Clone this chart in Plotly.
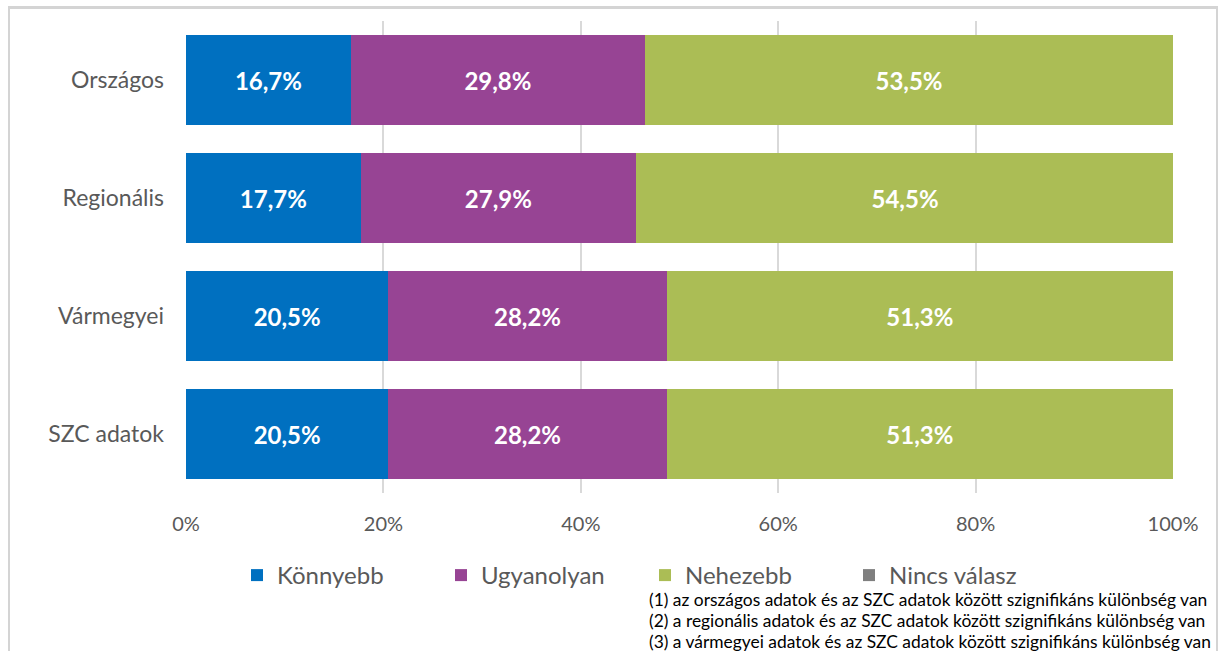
import plotly.graph_objects as go

categories = ["Országos", "Regionális", "Vármegyei", "SZC adatok"]
series_names = ["Könnyebb", "Ugyanolyan", "Nehezebb", "Nincs válasz"]
konnyebb = [16.7, 17.7, 20.5, 20.5]
ugyanolyan = [29.8, 27.9, 28.2, 28.2]
nehezebb = [53.5, 54.5, 51.3, 51.3]
nincs_valasz = [0, 0, 0, 0]
tick_vals = [0, 20, 40, 60, 80, 100]
tick_labels = ["0%", "20%", "40%", "60%", "80%", "100%"]
footnotes = [
    "(1) az országos adatok és az SZC adatok között szignifikáns különbség van",
    "(2) a regionális adatok és az SZC adatok között szignifikáns különbség van",
    "(3) a vármegyei adatok és az SZC adatok között szignifikáns különbség van",
]
colors = ["#0070c0", "#974494", "#abbd55", "#7f7f7f"]

W, H = 1219, 651
L, R, T, B = 186, 46, 21, 158
pw, ph = W - L - R, H - T - B

def fmt(v):
    return f"{v:.1f}".replace(".", ",") + "%"

fig = go.Figure()
for name, vals, col in zip(series_names, [konnyebb, ugyanolyan, nehezebb, nincs_valasz], colors):
    fig.add_trace(go.Bar(
        y=categories, x=vals, name=name, orientation="h",
        marker=dict(color=col, line=dict(width=0)),
        text=[fmt(v) if v > 0 else "" for v in vals],
        textposition="inside", insidetextanchor="middle",
        textfont=dict(family="Lato", size=24, color="white", weight="bold"),
        hoverinfo="skip",
    ))

def px_x(x):
    return (x - L) / pw

def px_y(y):
    return 1 - (y - T) / ph

bc = "#d4d4d4"
def band(x0, x1, y0, y1):
    return dict(type="rect", xref="paper", yref="paper",
                x0=px_x(x0), x1=px_x(x1), y0=px_y(y1), y1=px_y(y0),
                line=dict(width=0), fillcolor=bc, layer="above")

fig.update_layout(
    width=W, height=H,
    margin=dict(l=L, r=R, t=T, b=B),
    barmode="stack", bargap=0.237,
    plot_bgcolor="white", paper_bgcolor="white",
    font=dict(family="Lato", color="#595959"),
    xaxis=dict(range=[0, 100], tickvals=tick_vals, ticktext=tick_labels,
               showgrid=True, gridcolor="#d9d9d9", gridwidth=1.5,
               zeroline=False, showline=False, ticks="",
               tickfont=dict(size=20, color="#595959"), ticklabelstandoff=17),
    yaxis=dict(categoryorder="array", categoryarray=categories, autorange="reversed",
               showgrid=False, zeroline=False, showline=False, ticks="",
               tickfont=dict(size=23, color="#595959"), ticklabelstandoff=21),
    legend=dict(orientation="h", x=px_x(237), y=px_y(553), xanchor="left", yanchor="top",
                font=dict(size=24, color="#595959"), traceorder="normal",
                entrywidth=159, entrywidthmode="pixels", itemwidth=30,
                bgcolor="rgba(0,0,0,0)"),
    showlegend=True,
    shapes=[
        band(8, 1218, 6, 9),
        band(8, 10, 6, 660),
        band(1216, 1218, 6, 660),
    ],
)

for i, line in enumerate(footnotes):
    fig.add_annotation(text=line, xref="paper", yref="paper",
                       x=px_x(647), y=px_y(599 + 21 * i), xanchor="left", yanchor="middle",
                       showarrow=False, font=dict(family="Lato", size=17.4, color="black"))

fig.write_html("out.html", config={"displayModeBar": False},
               post_script="document.body.style.margin='0';")
